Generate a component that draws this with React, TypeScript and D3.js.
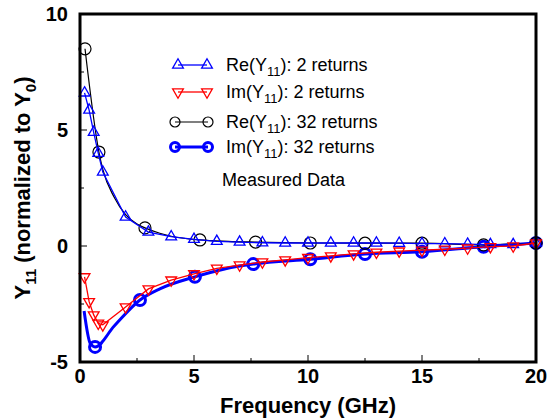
import React, { useRef, useEffect } from 'react';
import * as d3 from 'd3';

// Re(Y11), 2 returns (blue triangles)
const re2Freq = [0.2, 0.4, 0.6, 0.8, 1, 2, 3, 4, 5, 6, 7, 8, 9, 10, 11, 12, 13, 14, 15, 16, 17, 18, 19, 20];
const re2Val = [6.6, 5.86, 4.9, 4.0, 3.19, 1.25, 0.6, 0.4, 0.29, 0.2, 0.17, 0.14, 0.13, 0.13, 0.13, 0.13, 0.13, 0.12, 0.1, 0.1, 0.08, 0.06, 0.06, 0.13];

// Im(Y11), 2 returns (red triangles)
const im2Freq = re2Freq;
const im2Val = [-1.33, -2.4, -2.97, -3.33, -3.4, -2.63, -1.85, -1.47, -1.2, -0.96, -0.82, -0.69, -0.6, -0.5, -0.43, -0.34, -0.27, -0.22, -0.18, -0.14, -0.09, -0.03, 0.0, 0.13];

// Re(Y11), 32 returns (black circles) - curve and markers
const re32LineFreq = [0.22, 0.83, 1.0, 1.5, 2, 2.5, 2.85, 3.5, 4, 5.26, 6.5, 7.7, 10.1, 12.5, 15, 17.7, 20];
const re32LineVal = [8.5, 4.05, 3.3, 2.1, 1.35, 0.95, 0.78, 0.55, 0.42, 0.26, 0.2, 0.17, 0.13, 0.12, 0.12, 0.05, 0.13];
const re32MarkFreq = [0.22, 0.83, 2.85, 5.26, 7.7, 10.1, 12.5, 15, 17.7, 20];
const re32MarkVal = [8.5, 4.05, 0.78, 0.26, 0.17, 0.13, 0.12, 0.12, 0.05, 0.13];

// Im(Y11), 32 returns (thick blue circles)
const im32LineFreq = [0.18, 0.45, 0.66, 1.5, 2.63, 3.5, 5.04, 6.3, 7.6, 10.1, 12.5, 15, 17.7, 20];
const im32LineVal = [-2.8, -4.2, -4.35, -3.45, -2.33, -1.85, -1.33, -1.0, -0.78, -0.57, -0.35, -0.25, -0.03, 0.13];
const im32MarkFreq = [0.66, 2.63, 5.04, 7.6, 10.1, 12.5, 15, 17.7, 20];
const im32MarkVal = [-4.35, -2.33, -1.33, -0.78, -0.57, -0.35, -0.25, -0.03, 0.13];

const xTicks = [0, 5, 10, 15, 20];
const yTicks = [-5, 0, 5, 10];

const zip = (xs: number[], ys: number[]) => xs.map((x, i) => ({ x, y: ys[i] }));

const App = () => {
  const svgRef = useRef<SVGSVGElement | null>(null);

  useEffect(() => {
    const width = 550;
    const height = 418;
    const margin = { top: 14, right: 14, bottom: 56, left: 80 };
    const innerWidth = width - margin.left - margin.right;
    const innerHeight = height - margin.top - margin.bottom;

    const svg = d3.select(svgRef.current);
    svg.selectAll('*').remove();
    svg.attr('width', width).attr('height', height)
      .style('display', 'block').style('background', '#fff')
      .style('position', 'absolute').style('left', '0px').style('top', '0px');

    const font = '"Liberation Sans", Arial, sans-serif';
    const g = svg.append('g').attr('transform', `translate(${margin.left},${margin.top})`);

    const x = d3.scaleLinear().domain([0, 20]).range([0, innerWidth]);
    const y = d3.scaleLinear().domain([-5, 10]).range([innerHeight, 0]);

    // ticks (inward), majors every 5, minors every 2.5
    d3.range(0, 20.01, 2.5).forEach(v => {
      const len = v % 5 === 0 ? 7 : 4;
      g.append('line').attr('x1', x(v)).attr('x2', x(v)).attr('y1', innerHeight).attr('y2', innerHeight - len)
        .attr('stroke', '#000').attr('stroke-width', 1);
    });
    d3.range(-5, 10.01, 2.5).forEach(v => {
      const len = v % 5 === 0 ? 7 : 4;
      g.append('line').attr('x1', 0).attr('x2', len).attr('y1', y(v)).attr('y2', y(v))
        .attr('stroke', '#000').attr('stroke-width', 1);
    });

    // tick labels
    g.selectAll('.xt').data(xTicks).enter().append('text')
      .attr('x', d => x(d)).attr('y', innerHeight + 21).attr('text-anchor', 'middle')
      .attr('font-family', font).attr('font-weight', 'bold').attr('font-size', 20).text(d => d);
    g.selectAll('.yt').data(yTicks).enter().append('text')
      .attr('x', -12).attr('y', d => y(d) + 7).attr('text-anchor', 'end')
      .attr('font-family', font).attr('font-weight', 'bold').attr('font-size', 20).text(d => d);

    // axis titles
    svg.append('text').attr('x', margin.left + innerWidth / 2).attr('y', 413).attr('text-anchor', 'middle')
      .attr('font-family', font).attr('font-weight', 'bold').attr('font-size', 22).text('Frequency (GHz)');

    const yl = svg.append('text').attr('transform', `translate(30,${margin.top + innerHeight / 2}) rotate(-90)`)
      .attr('text-anchor', 'middle').attr('font-family', font).attr('font-weight', 'bold').attr('font-size', 22);
    yl.append('tspan').text('Y');
    yl.append('tspan').attr('font-size', 15).attr('dy', 6).text('11');
    yl.append('tspan').attr('dy', -6).text(' (normalized to Y');
    yl.append('tspan').attr('font-size', 15).attr('dy', 6).text('0');
    yl.append('tspan').attr('dy', -6).text(')');

    const line = d3.line<{ x: number; y: number }>().x(d => x(d.x)).y(d => y(d.y));
    const smooth = d3.line<{ x: number; y: number }>().x(d => x(d.x)).y(d => y(d.y)).curve(d3.curveMonotoneX);

    const tri = d3.symbol().type(d3.symbolTriangle).size(50);
    const plot = g.append('g');

    // Im 32 returns
    plot.append('path').datum(zip(im32LineFreq, im32LineVal)).attr('d', smooth)
      .attr('fill', 'none').attr('stroke', '#0000ff').attr('stroke-width', 3);
    plot.selectAll('.c2').data(zip(im32MarkFreq, im32MarkVal)).enter().append('circle')
      .attr('cx', d => x(d.x)).attr('cy', d => y(d.y)).attr('r', 5.5)
      .attr('fill', 'none').attr('stroke', '#0000ff').attr('stroke-width', 3);

    // Re 32 returns
    plot.append('path').datum(zip(re32LineFreq, re32LineVal)).attr('d', smooth)
      .attr('fill', 'none').attr('stroke', '#000').attr('stroke-width', 1.2);
    plot.selectAll('.c1').data(zip(re32MarkFreq, re32MarkVal)).enter().append('circle')
      .attr('cx', d => x(d.x)).attr('cy', d => y(d.y)).attr('r', 6)
      .attr('fill', 'none').attr('stroke', '#000').attr('stroke-width', 1.2);

    // Re 2 returns
    plot.append('path').datum(zip(re2Freq, re2Val)).attr('d', line)
      .attr('fill', 'none').attr('stroke', '#0000ff').attr('stroke-width', 1.3);
    plot.selectAll('.t1').data(zip(re2Freq, re2Val)).enter().append('path')
      .attr('d', tri).attr('transform', d => `translate(${x(d.x)},${y(d.y)})`)
      .attr('fill', 'none').attr('stroke', '#0000ff').attr('stroke-width', 1.3);

    // Im 2 returns
    plot.append('path').datum(zip(im2Freq, im2Val)).attr('d', line)
      .attr('fill', 'none').attr('stroke', '#ff0000').attr('stroke-width', 1.3);
    plot.selectAll('.t2').data(zip(im2Freq, im2Val)).enter().append('path')
      .attr('d', tri).attr('transform', d => `translate(${x(d.x)},${y(d.y)}) rotate(180)`)
      .attr('fill', 'none').attr('stroke', '#ff0000').attr('stroke-width', 1.3);

    // frame
    g.append('rect').attr('width', innerWidth).attr('height', innerHeight)
      .attr('fill', 'none').attr('stroke', '#000').attr('stroke-width', 3);

    // legend
    const legend = svg.append('g');
    const rows = [
      { y: 65, label: 'Re', tail: ': 2 returns', color: '#0000ff', mark: 'up', sw: 1.3 },
      { y: 92, label: 'Im', tail: ': 2 returns', color: '#ff0000', mark: 'down', sw: 1.3 },
      { y: 122, label: 'Re', tail: ': 32 returns', color: '#000', mark: 'circle', sw: 1.2 },
      { y: 147, label: 'Im', tail: ': 32 returns', color: '#0000ff', mark: 'thick', sw: 3 },
    ];
    rows.forEach(r => {
      const round = r.mark === 'circle' || r.mark === 'thick';
      const x1 = round ? 175 : 178;
      const x2 = round ? 208 : 207;
      legend.append('line').attr('x1', x1).attr('x2', x2).attr('y1', r.y).attr('y2', r.y)
        .attr('stroke', r.color).attr('stroke-width', r.sw);
      [x1, x2].forEach(px => {
        if (!round) {
          legend.append('path').attr('d', tri)
            .attr('transform', `translate(${px},${r.y}) ${r.mark === 'down' ? 'rotate(180)' : ''}`)
            .attr('fill', 'none').attr('stroke', r.color).attr('stroke-width', 1.3);
        } else {
          legend.append('circle').attr('cx', px).attr('cy', r.y).attr('r', r.mark === 'thick' ? 4.5 : 5)
            .attr('fill', 'none').attr('stroke', r.color).attr('stroke-width', r.sw);
        }
      });
      const t = legend.append('text').attr('x', 226).attr('y', r.y + 6)
        .attr('font-family', font).attr('font-size', 18);
      t.append('tspan').text(`${r.label}(Y`);
      t.append('tspan').attr('font-size', 13).attr('dy', 5).text('11');
      t.append('tspan').attr('dy', -5).text(`)${r.tail}`);
    });
    legend.append('text').attr('x', 222).attr('y', 186).attr('font-family', font).attr('font-size', 18).text('Measured Data');
  }, []);

  return <svg ref={svgRef}></svg>;
};

export default App;
